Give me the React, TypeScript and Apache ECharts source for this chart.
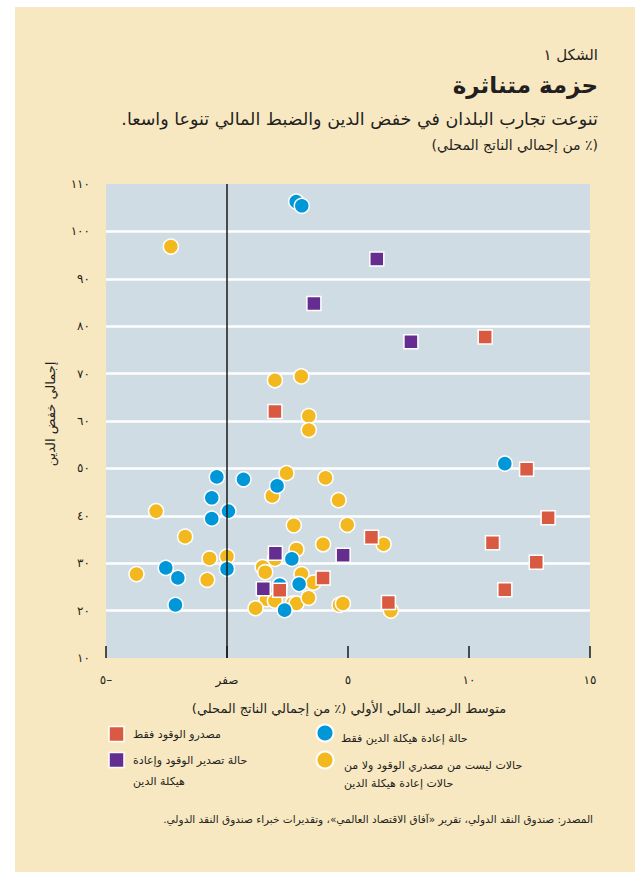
import React, { useEffect, useRef } from 'react';
import * as echarts from 'echarts';

// Average primary balance (x, % of GDP) vs total debt reduction (y, % of GDP)
const fuelExportersOnly: [number, number][] = [
  [1.98, 62.0], [10.67, 77.7], [12.38, 49.8], [13.27, 39.6], [5.97, 35.5],
  [10.97, 34.3], [12.78, 30.2], [3.97, 26.9], [2.18, 24.3], [11.48, 24.4], [6.67, 21.7],
];
const fuelAndRestructuring: [number, number][] = [
  [6.19, 94.2], [3.59, 84.8], [7.6, 76.7], [2.0, 32.1], [4.8, 31.7], [1.5, 24.6],
];
const restructuringOnly: [number, number][] = [
  [2.86, 106.3], [3.09, 105.4], [-0.42, 48.2], [0.68, 47.7], [2.07, 46.3], [-0.63, 43.8],
  [0.06, 41.0], [-0.63, 39.4], [2.68, 30.9], [-2.53, 29.0], [0.0, 28.8], [-2.03, 26.9],
  [2.98, 25.6], [2.18, 25.4], [2.38, 20.1], [-2.13, 21.2], [11.48, 51.0],
];
const neither: [number, number][] = [
  [-2.32, 96.8], [1.98, 68.6], [3.07, 69.4], [3.38, 61.05], [3.38, 58.1], [2.46, 49.0],
  [4.07, 48.0], [1.87, 44.2], [4.61, 43.3], [-2.93, 41.0], [2.76, 38.0], [4.97, 38.1],
  [-1.73, 35.6], [3.97, 34.0], [2.87, 32.9], [6.47, 34.0], [1.98, 30.9], [-0.72, 31.0],
  [0.0, 31.4], [1.47, 29.2], [1.58, 28.1], [-3.74, 27.7], [-0.82, 26.5], [3.08, 27.7],
  [3.57, 25.9], [1.63, 22.4], [1.98, 22.1], [2.72, 21.5], [2.87, 21.5], [3.37, 22.7],
  [1.18, 20.5], [4.65, 21.2], [4.79, 21.5], [6.77, 20.0],
];

const xTickValues = [-5, 0, 5, 10, 15];
const xTickLabels = ['٥–', 'صفر', '٥', '١٠', '١٥'];
const yTickValues = [10, 20, 30, 40, 50, 60, 70, 80, 90, 100, 110];
const yTickLabels = ['١٠', '٢٠', '٣٠', '٤٠', '٥٠', '٦٠', '٧٠', '٨٠', '٩٠', '١٠٠', '١١٠'];

const seriesNames = [
  'مصدرو الوقود فقط',
  'حالة تصدير الوقود وإعادة هيكلة الدين',
  'حالة إعادة هيكلة الدين فقط',
  'حالات ليست من مصدري الوقود ولا من حالات إعادة هيكلة الدين',
];

const RED = '#D95A40';
const PURPLE = '#662D91';
const BLUE = '#0097D9';
const YELLOW = '#F2B81E';
const TEXT = '#231F20';
const FONT = "'DejaVu Sans', 'Noto Sans', sans-serif";

const rtl = (s: string) => '\u202B' + s + '\u202C';

export default function App() {
  const ref = useRef<HTMLDivElement>(null);
  useEffect(() => {
    if (!ref.current) return;
    const chart = echarts.init(ref.current, null, { renderer: 'svg' });
    const txt = (x: number, y: number, s: string, size: number, align: string, extra: any = {}) => ({
      type: 'text',
      x,
      y,
      style: {
        text: s,
        fontSize: size,
        fontFamily: FONT,
        fill: TEXT,
        align,
        verticalAlign: 'middle',
        ...extra,
      },
    });
    const option: any = {
      animation: false,
      backgroundColor: 'transparent',
      grid: {
        left: 106,
        right: 45,
        top: 184,
        bottom: 214,
        show: true,
        backgroundColor: '#D0DCE4',
        borderWidth: 0,
      },
      xAxis: {
        type: 'value',
        min: -5,
        max: 15,
        interval: 5,
        axisLine: { show: false },
        axisTick: { show: true, inside: true, length: 12, lineStyle: { color: '#1a1a1a', width: 1.5 } },
        splitLine: { show: false },
        axisLabel: {
          margin: 16,
          fontSize: 12,
          fontFamily: FONT,
          color: TEXT,
          formatter: (v: number) => xTickLabels[xTickValues.indexOf(v)] ?? '',
        },
      },
      yAxis: {
        type: 'value',
        min: 10,
        max: 110,
        interval: 10,
        axisLine: { show: false },
        axisTick: { show: false },
        splitLine: {
          show: true,
          showMinLine: false,
          showMaxLine: false,
          lineStyle: { color: '#ffffff', width: 2.5 },
        },
        axisLabel: {
          margin: 16,
          fontSize: 12,
          fontFamily: FONT,
          color: TEXT,
          padding: [6, 0, 0, 0],
          formatter: (v: number) => yTickLabels[yTickValues.indexOf(v)] ?? '',
        },
      },
      series: [
        {
          type: 'scatter',
          data: [],
          z: 1,
          markLine: {
            silent: true,
            symbol: 'none',
            label: { show: false },
            lineStyle: { color: '#1a1a1a', width: 1.5, type: 'solid' },
            data: [{ xAxis: 0 }],
          },
        },
        {
          name: seriesNames[3],
          type: 'scatter',
          data: neither,
          symbol: 'circle',
          symbolSize: 15,
          z: 2,
          itemStyle: { color: YELLOW, borderColor: '#fff', borderWidth: 1.5, opacity: 1 },
        },
        {
          name: seriesNames[2],
          type: 'scatter',
          data: restructuringOnly,
          symbol: 'circle',
          symbolSize: 15,
          z: 3,
          itemStyle: { color: BLUE, borderColor: '#fff', borderWidth: 1.5, opacity: 1 },
        },
        {
          name: seriesNames[1],
          type: 'scatter',
          data: fuelAndRestructuring,
          symbol: 'rect',
          symbolSize: 14,
          z: 4,
          itemStyle: { color: PURPLE, borderColor: '#fff', borderWidth: 1.5, opacity: 1 },
        },
        {
          name: seriesNames[0],
          type: 'scatter',
          data: fuelExportersOnly,
          symbol: 'rect',
          symbolSize: 14,
          z: 5,
          itemStyle: { color: RED, borderColor: '#fff', borderWidth: 1.5, opacity: 1 },
        },
      ],
      graphic: [
        txt(598, 55, rtl('الشكل ١'), 15, 'right'),
        txt(598, 85, rtl('حزمة متناثرة'), 23, 'right', { fontWeight: 'bold' }),
        txt(598, 119, rtl('تنوعت تجارب البلدان في خفض الدين والضبط المالي تنوعا واسعا.'), 17.5, 'right'),
        txt(598, 145, rtl('(٪ من إجمالي الناتج المحلي)'), 14, 'right'),
        {
          type: 'text',
          x: 50,
          y: 414,
          rotation: Math.PI / 2,
          style: {
            text: rtl('إجمالي خفض الدين'),
            fontSize: 13,
            fontFamily: FONT,
            fill: TEXT,
            align: 'center',
            verticalAlign: 'middle',
          },
        },
        txt(349, 708, rtl('متوسط الرصيد المالي الأولي (٪ من إجمالي الناتج المحلي)'), 13, 'center'),
        // legend
        {
          type: 'rect',
          shape: { x: 109, y: 726.5, width: 15, height: 15 },
          style: { fill: RED, stroke: '#fff', lineWidth: 1.5 },
        },
        txt(133, 734, rtl('مصدرو الوقود فقط'), 11, 'left'),
        {
          type: 'rect',
          shape: { x: 109, y: 752.5, width: 15, height: 15 },
          style: { fill: PURPLE, stroke: '#fff', lineWidth: 1.5 },
        },
        txt(133, 760, rtl('حالة تصدير الوقود وإعادة'), 11, 'left'),
        txt(133, 781, rtl('هيكلة الدين'), 11, 'left'),
        {
          type: 'circle',
          shape: { cx: 325, cy: 733, r: 8.5 },
          style: { fill: BLUE, stroke: '#fff', lineWidth: 2 },
        },
        txt(341, 738, rtl('حالة إعادة هيكلة الدين فقط'), 11, 'left'),
        {
          type: 'circle',
          shape: { cx: 325, cy: 760, r: 8.5 },
          style: { fill: YELLOW, stroke: '#fff', lineWidth: 2 },
        },
        txt(344, 765, rtl('حالات ليست من مصدري الوقود ولا من'), 11, 'left'),
        txt(344, 783, rtl('حالات إعادة هيكلة الدين'), 11, 'left'),
        txt(593, 819, rtl('المصدر: صندوق النقد الدولي، تقرير «آفاق الاقتصاد العالمي»، وتقديرات خبراء صندوق النقد الدولي.'), 10.5, 'right'),
      ],
    };
    chart.setOption(option);
    return () => chart.dispose();
  }, []);

  return (
    <div style={{ position: 'fixed', left: 0, top: 0, width: 635, height: 872, background: '#ffffff' }}>
      <div style={{ position: 'absolute', left: 15, top: 7, width: 620, height: 865, background: '#F8E8C2' }} />
      <div ref={ref} style={{ position: 'absolute', left: 0, top: 0, width: 635, height: 872 }} />
    </div>
  );
}
